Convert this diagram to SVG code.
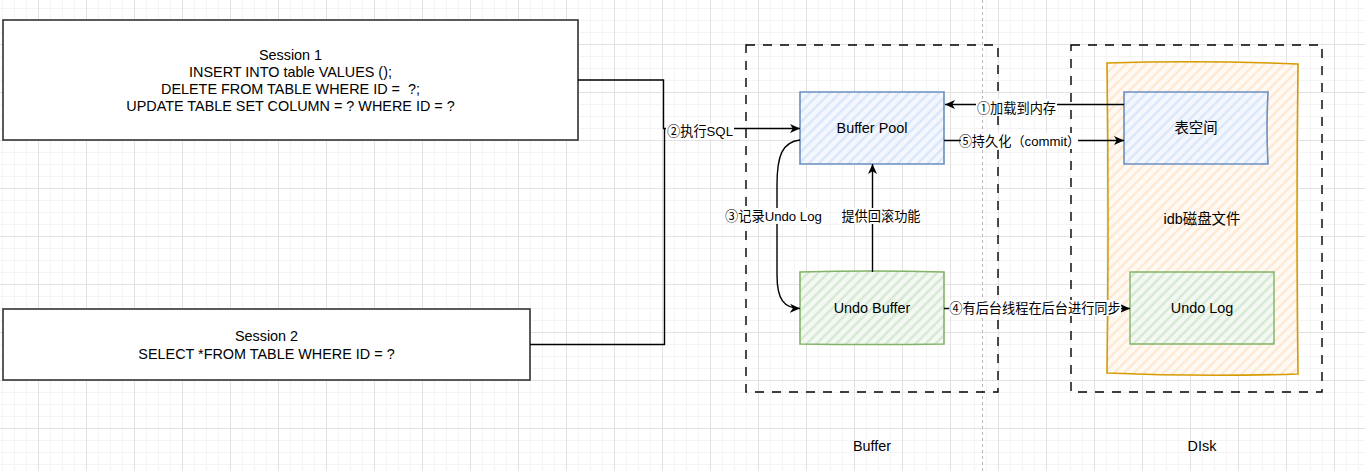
<svg xmlns="http://www.w3.org/2000/svg" width="1365" height="471" viewBox="0 0 1365 471">
<defs>
<style>
.t{font-family:"Liberation Sans","Noto Sans CJK SC",sans-serif;font-size:14.4px;fill:#000;text-anchor:middle}
.l{font-family:"Liberation Sans","Noto Sans CJK SC",sans-serif;font-size:13.2px;fill:#000;text-anchor:middle}
.e{fill:none;stroke:#000;stroke-width:1.4}
.lb{fill:#fff}
.cont{fill:none;stroke:#000;stroke-width:1.4;stroke-dasharray:9 8}
.sess{fill:#fff;stroke:#333;stroke-width:1.6}
</style>
<pattern id="minor" x="38" y="44" width="12" height="12" patternUnits="userSpaceOnUse">
<path d="M0.5,0V12M0,0.5H12" stroke="#f4f4f4" stroke-width="1" fill="none"/>
</pattern>
<pattern id="major" x="38" y="44" width="48" height="48" patternUnits="userSpaceOnUse">
<path d="M0.5,0V48M0,0.5H48" stroke="#e2e2e2" stroke-width="1" fill="none"/>
</pattern>
<pattern id="hb" width="7" height="7" patternUnits="userSpaceOnUse" patternTransform="rotate(45)">
<rect width="7" height="7" fill="#f4f8fe"/><line x1="1.5" y1="0" x2="1.5" y2="7" stroke="#d4e3fa" stroke-width="2"/>
</pattern>
<pattern id="hg" width="7" height="7" patternUnits="userSpaceOnUse" patternTransform="rotate(45)">
<rect width="7" height="7" fill="#f3f9f2"/><line x1="1.5" y1="0" x2="1.5" y2="7" stroke="#cfe5cd" stroke-width="2"/>
</pattern>
<pattern id="ho" width="7" height="7" patternUnits="userSpaceOnUse" patternTransform="rotate(45)">
<rect width="7" height="7" fill="#fffaf4"/><line x1="1.5" y1="0" x2="1.5" y2="7" stroke="#ffe5cb" stroke-width="2"/>
</pattern>
<marker id="arr" markerUnits="userSpaceOnUse" markerWidth="12" markerHeight="10" refX="10" refY="5" orient="auto">
<path d="M0,0.5 L10,5 L0,9.5 L2.8,5 z" fill="#000"/>
</marker>
</defs>
<rect width="1365" height="471" fill="#fff"/>
<rect width="1365" height="471" fill="url(#minor)"/>
<rect width="1365" height="471" fill="url(#major)"/>
<line x1="982.5" y1="0" x2="982.5" y2="471" stroke="#b8b8b8" stroke-width="1" stroke-dasharray="3 3"/>

<g id="buffer-container">
<rect class="cont" x="746" y="45" width="252" height="347"/>
<text class="t" x="872" y="451">Buffer</text>
</g>
<g id="disk-container">
<rect class="cont" x="1071" y="45" width="251" height="347"/>
<text class="t" x="1202" y="451">DIsk</text>
</g>

<g id="session1">
<rect class="sess" x="3" y="20" width="575" height="120"/>
<text class="t" x="290.5" y="60">Session 1</text>
<text class="t" x="290.5" y="77">INSERT INTO table VALUES ();</text>
<text class="t" x="290.5" y="94" xml:space="preserve">DELETE FROM TABLE WHERE ID =  ?;</text>
<text class="t" x="290.5" y="111">UPDATE TABLE SET COLUMN = ? WHERE ID = ?</text>
</g>
<g id="session2">
<rect class="sess" x="3" y="309" width="527" height="71"/>
<text class="t" x="266.5" y="341">Session 2</text>
<text class="t" x="266.5" y="359">SELECT *FROM TABLE WHERE ID = ?</text>
</g>

<g id="idb-file">
<path d="M1107,63 Q1200,60 1298,64 Q1296,220 1298,374 Q1200,377 1107,373 Q1109,220 1107,63 z" fill="url(#ho)" stroke="#d79b00" stroke-width="1.6"/>
<text class="t" x="1202" y="224">idb磁盘文件</text>
</g>
<g id="buffer-pool">
<path d="M800,92 L944,92 L944,164 L800,164 z" fill="url(#hb)" stroke="#6c8ebf" stroke-width="1.6"/>
<text class="t" x="872" y="133">Buffer Pool</text>
</g>
<g id="undo-buffer">
<path d="M800,272 Q872,270 944,272 L944,344 Q872,345 800,344 z" fill="url(#hg)" stroke="#82b366" stroke-width="1.6"/>
<text class="t" x="872" y="313">Undo Buffer</text>
</g>
<g id="tablespace">
<path d="M1124,92 L1268,92 Q1266,128 1268,164 L1124,164 z" fill="url(#hb)" stroke="#6c8ebf" stroke-width="1.6"/>
<text class="t" x="1196" y="133">表空间</text>
</g>
<g id="undo-log">
<path d="M1130,272 L1274,272 L1274,344 L1130,344 z" fill="url(#hg)" stroke="#82b366" stroke-width="1.4"/>
<text class="t" x="1202" y="313">Undo Log</text>
</g>

<g id="connectors">
<path class="e" d="M578,80 H663.5 V128.5 H800" marker-end="url(#arr)"/>
<path class="e" d="M530,344.5 H664.5 V128.5"/>
<path class="e" d="M1124,104.5 H945" marker-end="url(#arr)"/>
<path class="e" d="M944,140.5 H1124" marker-end="url(#arr)"/>
<path class="e" d="M944,308.5 H1130" marker-end="url(#arr)"/>
<path class="e" d="M800,140 C782,142 777,156 777,185 L777,275 C777,300 784,308 800,308.5" marker-end="url(#arr)"/>
<path class="e" d="M872.5,272 V164" marker-end="url(#arr)"/>

<rect class="lb" x="666" y="123" width="68" height="16"/>
<text class="l" x="700" y="136">②执行SQL</text>
<rect class="lb" x="976" y="99" width="81" height="17"/>
<text class="l" x="1016.5" y="112.5">①加载到内存</text>
<rect class="lb" x="961" y="133" width="117" height="16"/>
<text class="l" x="1019.5" y="145.5">⑤持久化（commit）</text>
<rect class="lb" x="949" y="300" width="172" height="16"/>
<text class="l" x="1035" y="312.5">④有后台线程在后台进行同步</text>
<rect class="lb" x="724" y="208" width="99" height="16"/>
<text class="l" x="773.5" y="220.5">③记录Undo Log</text>
<rect class="lb" x="841" y="208" width="80" height="16"/>
<text class="l" x="881" y="220.5">提供回滚功能</text>
</g>
</svg>
